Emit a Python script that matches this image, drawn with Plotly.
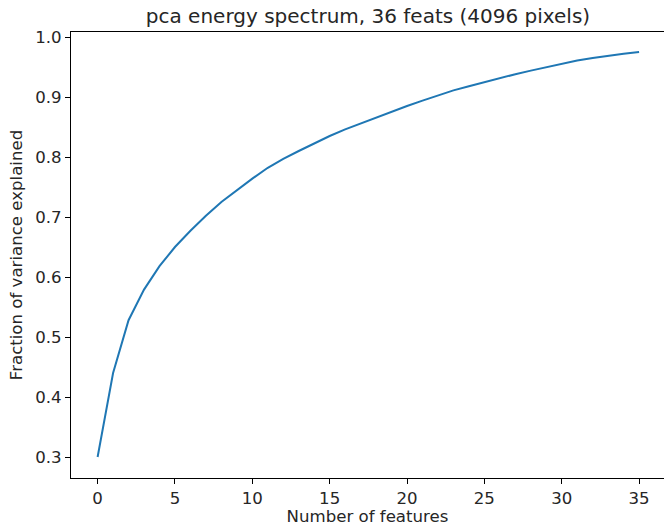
import plotly.graph_objects as go

n_features = list(range(36))
variance_explained = [
    0.300, 0.440, 0.528, 0.579, 0.618, 0.650, 0.677, 0.702, 0.725, 0.745,
    0.764, 0.782, 0.797, 0.810, 0.823, 0.835, 0.846, 0.856, 0.866, 0.876,
    0.885, 0.894, 0.903, 0.911, 0.918, 0.925, 0.932, 0.938, 0.944, 0.950,
    0.955, 0.961, 0.965, 0.969, 0.972, 0.975,
]
x_ticks = [0, 5, 10, 15, 20, 25, 30, 35]
y_ticks = [0.3, 0.4, 0.5, 0.6, 0.7, 0.8, 0.9, 1.0]
y_tick_text = ["0.3", "0.4", "0.5", "0.6", "0.7", "0.8", "0.9", "1.0"]

font = "DejaVu Sans"

fig = go.Figure()
fig.add_trace(go.Scatter(
    x=n_features, y=variance_explained, mode="lines",
    line=dict(color="#1f77b4", width=2), showlegend=False,
))

fig.update_layout(
    width=664, height=526,
    margin=dict(l=71, r=0, t=32, b=48),
    paper_bgcolor="white", plot_bgcolor="white",
    font=dict(family=font, size=16.6, color="#262626"),
    title=dict(text="pca energy spectrum, 36 feats (4096 pixels)",
               x=0.5542, xanchor="center", y=0.9705, yanchor="middle",
               font=dict(family=font, size=20, color="#262626")),
)
fig.update_xaxes(
    range=[-1.72, 36.61], tickvals=x_ticks, ticks="outside", ticklen=5,
    tickcolor="black", tickwidth=1, showgrid=False, zeroline=False,
    showline=True, linecolor="black", linewidth=1, mirror=True,
    tickfont=dict(size=16.6),
    title=dict(text="Number of features", standoff=2, font=dict(size=16.6)),
    automargin=False,
)
fig.update_yaxes(
    range=[0.265, 1.00833], tickvals=y_ticks, ticktext=y_tick_text,
    ticks="outside", ticklen=5, tickcolor="black", tickwidth=1,
    showgrid=False, zeroline=False,
    showline=True, linecolor="black", linewidth=1,
    tickfont=dict(size=16.6),
    title=dict(text="Fraction of variance explained", standoff=8, font=dict(size=16.6)),
    automargin=False,
)

fig.write_html(
    "out.html",
    config={"displayModeBar": False},
    post_script="document.body.style.margin='0';document.body.style.overflow='hidden';",
)
